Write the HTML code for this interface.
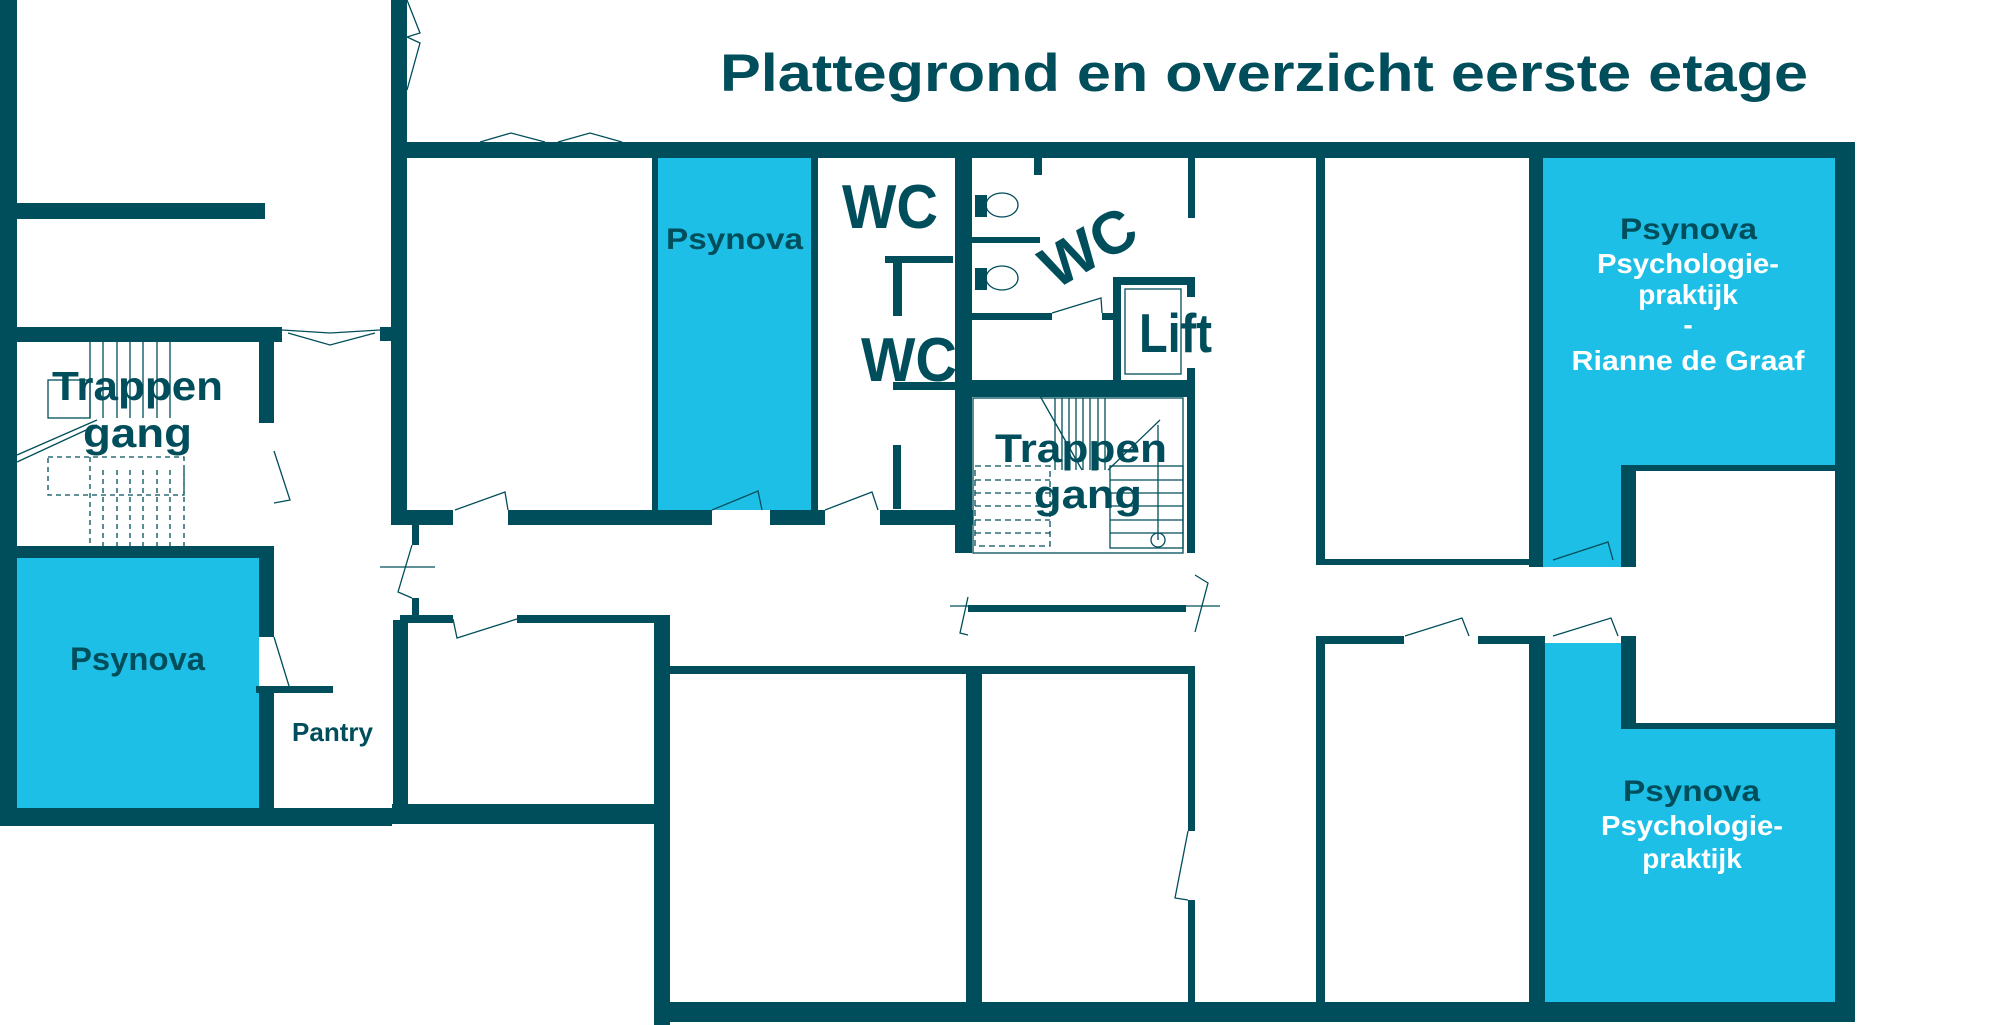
<!DOCTYPE html>
<html><head><meta charset="utf-8"><style>
html,body{margin:0;padding:0;background:#fff;}
svg{display:block;}
text{font-family:"Liberation Sans",sans-serif;font-weight:bold;}
</style></head><body>
<svg width="2000" height="1025" viewBox="0 0 2000 1025" xmlns="http://www.w3.org/2000/svg">
<g fill="#1dbfe6">
<rect x="657" y="158" width="156" height="352"/>
<rect x="17" y="558" width="242" height="250"/>
<polygon points="1543,157 1838,157 1838,465 1621,465 1621,567 1543,567"/>
<polygon points="1545,643 1621,643 1621,729 1839,729 1839,1004 1545,1004"/>
</g>
<g fill="#004e5b">
<rect x="0" y="0" width="17" height="826"/>
<rect x="0" y="203" width="265" height="16"/>
<rect x="0" y="327" width="282" height="15"/>
<rect x="380" y="327" width="12" height="14"/>
<rect x="259" y="342" width="15" height="81"/>
<rect x="17" y="546" width="257" height="12"/>
<rect x="259" y="558" width="15" height="79"/>
<rect x="259" y="686" width="15" height="140"/>
<rect x="256" y="686" width="77" height="7"/>
<rect x="0" y="808" width="392" height="18"/>
<rect x="392" y="804" width="262" height="20"/>
<rect x="391" y="0" width="16" height="525"/>
<rect x="391" y="510" width="62" height="15"/>
<rect x="508" y="510" width="204" height="15"/>
<rect x="770" y="510" width="55" height="15"/>
<rect x="880" y="510" width="93" height="15"/>
<rect x="412" y="525" width="7" height="20"/>
<rect x="412" y="598" width="7" height="17"/>
<rect x="400" y="615" width="53" height="8"/>
<rect x="517" y="615" width="152" height="8"/>
<rect x="393" y="620" width="15" height="190"/>
<rect x="391" y="142" width="1464" height="16"/>
<rect x="1835" y="142" width="20" height="878"/>
<rect x="652" y="158" width="6" height="352"/>
<rect x="811" y="158" width="7" height="352"/>
<rect x="955" y="158" width="17" height="395"/>
<rect x="885" y="256" width="68" height="7"/>
<rect x="893" y="256" width="9" height="60"/>
<rect x="893" y="445" width="8" height="64"/>
<rect x="893" y="382" width="64" height="8"/>
<rect x="957" y="380" width="238" height="17"/>
<rect x="972" y="237" width="68" height="6"/>
<rect x="972" y="313" width="80" height="7"/>
<rect x="1102" y="313" width="11" height="7"/>
<rect x="1034" y="158" width="8" height="17"/>
<rect x="1188" y="158" width="7" height="60"/>
<rect x="975" y="195" width="12" height="22"/>
<rect x="975" y="268" width="12" height="22"/>
<rect x="1113" y="277" width="82" height="8"/>
<rect x="1113" y="277" width="8" height="103"/>
<rect x="1187" y="277" width="8" height="20"/>
<rect x="1187" y="368" width="8" height="12"/>
<rect x="1187" y="397" width="8" height="156"/>
<rect x="968" y="605" width="218" height="7"/>
<rect x="670" y="666" width="525" height="8"/>
<rect x="654" y="615" width="16" height="410"/>
<rect x="966" y="674" width="16" height="330"/>
<rect x="1188" y="674" width="7" height="157"/>
<rect x="1188" y="900" width="7" height="105"/>
<rect x="1316" y="158" width="9" height="407"/>
<rect x="1316" y="559" width="213" height="6"/>
<rect x="1529" y="157" width="14" height="410"/>
<rect x="1621" y="465" width="15" height="102"/>
<rect x="1621" y="465" width="218" height="6"/>
<rect x="1316" y="636" width="9" height="370"/>
<rect x="1316" y="636" width="88" height="8"/>
<rect x="1478" y="636" width="66" height="8"/>
<rect x="1529" y="636" width="16" height="370"/>
<rect x="1621" y="636" width="15" height="93"/>
<rect x="1621" y="723" width="218" height="6"/>
<rect x="654" y="1002" width="1201" height="20"/>
</g>
<g fill="none" stroke="#004e5b" stroke-width="1.3">
<polyline points="407,0 420,33 407,37 420,43 407,90"/>
<polyline points="480,142 511,133 545,142"/><polyline points="558,142 590,133 622,142"/>
<polyline points="282,330 330,333 380,330"/><polyline points="288,333 330,345 375,333"/>
<polyline points="455,510 505,492 508,510"/><polyline points="712,510 758,491 762,510"/>
<polyline points="825,510 872,492 878,510"/>
<polyline points="412,545 398,592 412,598"/>
<polyline points="453,619 457,638 517,619"/>
<polyline points="274,451 290,500 274,503"/>
<polyline points="274,637 289,686"/>
<polyline points="1052,313 1101,298 1102,313"/>
<rect x="1125" y="289" width="56" height="85"/>
<polyline points="1195,575 1208,583 1195,632"/>
<polyline points="1188,831 1175,898 1188,900"/>
<polyline points="1405,636 1462,618 1469,636"/>
<polyline points="1553,636 1611,618 1618,636"/>
<polyline points="1553,560 1608,542 1613,560"/>
<polyline points="968,597 960,633 968,635"/>
<line x1="950" y1="606" x2="1220" y2="606"/>
<line x1="380" y1="567" x2="435" y2="567"/>
<rect x="48" y="380" width="42" height="38"/>
<line x1="90" y1="342" x2="90" y2="418"/><line x1="103" y1="342" x2="103" y2="418"/>
<line x1="117" y1="342" x2="117" y2="418"/><line x1="130" y1="342" x2="130" y2="418"/>
<line x1="143" y1="342" x2="143" y2="418"/><line x1="157" y1="342" x2="157" y2="418"/>
<line x1="170" y1="342" x2="170" y2="418"/>
<line x1="17" y1="455" x2="97" y2="420"/><line x1="17" y1="462" x2="97" y2="425"/>
<rect x="48" y="457" width="136" height="38" stroke-dasharray="5,4"/>
<line x1="90" y1="457" x2="90" y2="546" stroke-dasharray="5,4"/>
<line x1="103" y1="470" x2="103" y2="546" stroke-dasharray="5,4"/>
<line x1="117" y1="470" x2="117" y2="546" stroke-dasharray="5,4"/>
<line x1="130" y1="470" x2="130" y2="546" stroke-dasharray="5,4"/>
<line x1="143" y1="470" x2="143" y2="546" stroke-dasharray="5,4"/>
<line x1="157" y1="470" x2="157" y2="546" stroke-dasharray="5,4"/>
<line x1="170" y1="470" x2="170" y2="546" stroke-dasharray="5,4"/>
<line x1="184" y1="470" x2="184" y2="546" stroke-dasharray="5,4"/>
<rect x="973" y="398" width="210" height="155"/>
<line x1="1055" y1="398" x2="1055" y2="470"/><line x1="1062" y1="398" x2="1062" y2="470"/>
<line x1="1069" y1="398" x2="1069" y2="470"/><line x1="1076" y1="398" x2="1076" y2="470"/>
<line x1="1083" y1="398" x2="1083" y2="470"/><line x1="1090" y1="398" x2="1090" y2="470"/>
<line x1="1098" y1="398" x2="1098" y2="470"/><line x1="1105" y1="398" x2="1105" y2="470"/>
<line x1="1040" y1="396" x2="1082" y2="470"/>
<line x1="1108" y1="470" x2="1160" y2="420"/>
<rect x="975" y="466" width="75" height="80" stroke-dasharray="6,4"/>
<line x1="975" y1="480" x2="1050" y2="480" stroke-dasharray="6,4"/>
<line x1="975" y1="493" x2="1050" y2="493" stroke-dasharray="6,4"/>
<line x1="975" y1="506" x2="1050" y2="506" stroke-dasharray="6,4"/>
<line x1="975" y1="520" x2="1050" y2="520" stroke-dasharray="6,4"/>
<line x1="975" y1="533" x2="1050" y2="533" stroke-dasharray="6,4"/>
<rect x="1110" y="466" width="73" height="82"/>
<line x1="1110" y1="480" x2="1183" y2="480"/><line x1="1110" y1="493" x2="1183" y2="493"/>
<line x1="1110" y1="506" x2="1183" y2="506"/><line x1="1110" y1="520" x2="1183" y2="520"/>
<line x1="1110" y1="533" x2="1183" y2="533"/>
<line x1="1158" y1="425" x2="1158" y2="540"/>
<circle cx="1158" cy="540" r="7"/>
<ellipse cx="1002" cy="205" rx="16" ry="12"/>
<ellipse cx="1002" cy="278" rx="16" ry="12"/>
</g>
<g fill="#004e5b">
<text x="720" y="91" font-size="53" textLength="1088" lengthAdjust="spacingAndGlyphs">Plattegrond en overzicht eerste etage</text>
<text x="842" y="228" font-size="62" textLength="96" lengthAdjust="spacingAndGlyphs">WC</text>
<text x="861" y="381" font-size="62" textLength="96" lengthAdjust="spacingAndGlyphs">WC</text>
<text x="1088" y="268" font-size="60" text-anchor="middle" transform="rotate(-30 1088 247)">WC</text>
<text x="1139" y="352" font-size="55" textLength="73" lengthAdjust="spacingAndGlyphs">Lift</text>
<text x="666" y="249" font-size="30" textLength="137" lengthAdjust="spacingAndGlyphs">Psynova</text>
<text x="52" y="400" font-size="41" textLength="171" lengthAdjust="spacingAndGlyphs">Trappen</text>
<text x="83" y="447" font-size="41" textLength="109" lengthAdjust="spacingAndGlyphs">gang</text>
<text x="995" y="462" font-size="40" textLength="172" lengthAdjust="spacingAndGlyphs">Trappen</text>
<text x="1034" y="508" font-size="40" textLength="108" lengthAdjust="spacingAndGlyphs">gang</text>
<text x="70" y="670" font-size="32" textLength="135" lengthAdjust="spacingAndGlyphs">Psynova</text>
<text x="292" y="741" font-size="26" textLength="81" lengthAdjust="spacingAndGlyphs">Pantry</text>
<text x="1620" y="239" font-size="30" textLength="137" lengthAdjust="spacingAndGlyphs">Psynova</text>
<text x="1623" y="801" font-size="30" textLength="137" lengthAdjust="spacingAndGlyphs">Psynova</text>
</g>
<g fill="#ffffff" text-anchor="middle">
<text x="1688" y="273" font-size="28" textLength="182" lengthAdjust="spacingAndGlyphs">Psychologie-</text>
<text x="1688" y="304" font-size="28">praktijk</text>
<text x="1688" y="334" font-size="28">-</text>
<text x="1688" y="370" font-size="28" textLength="233" lengthAdjust="spacingAndGlyphs">Rianne de Graaf</text>
<text x="1692" y="835" font-size="28" textLength="182" lengthAdjust="spacingAndGlyphs">Psychologie-</text>
<text x="1692" y="868" font-size="28">praktijk</text>
</g>
</svg>
</body></html>
